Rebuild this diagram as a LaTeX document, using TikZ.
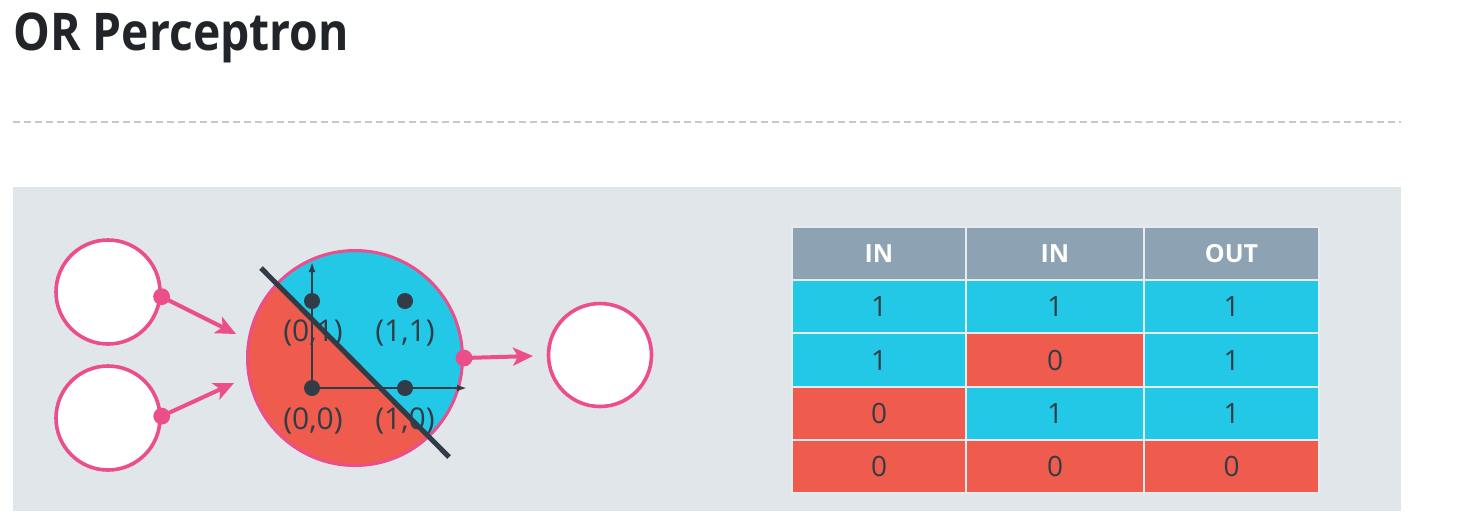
\documentclass[tikz,border=0pt]{standalone}
\usepackage{fontspec}
\setmainfont{Open Sans}
\newfontfamily\titlefont[FakeStretch=0.89]{Open Sans}
\usetikzlibrary{arrows.meta}
\definecolor{panel}{HTML}{E1E6EA}
\definecolor{pinkc}{HTML}{EC4D8B}
\definecolor{cyanc}{HTML}{22C8E5}
\definecolor{redc}{HTML}{EF5C4E}
\definecolor{headc}{HTML}{8DA3B4}
\definecolor{darkc}{HTML}{323C46}
\definecolor{titlec}{HTML}{212529}
\definecolor{dashc}{HTML}{C8C8C8}
\definecolor{gridc}{HTML}{E4ECF0}
\begin{document}
\begin{tikzpicture}[x=0.5pt,y=-0.5pt,
  incirc/.style={circle,draw=pinkc,fill=white,line width=1.8pt,minimum size=52pt,inner sep=0pt},
  pinkdot/.style={pinkc},
  arr/.style={pinkc,line width=2pt,-{Stealth[length=10pt,width=9pt,inset=2.5pt]}},
  axisln/.style={darkc,line width=1pt,-{Latex[length=5pt,width=3.5pt]}},
  pt/.style={circle,fill=darkc,minimum size=8pt,inner sep=0pt},
  lbl/.style={text=darkc,font=\fontsize{15}{18}\selectfont,inner sep=0pt},
  cell/.style={draw=gridc,line width=0.6pt,minimum height=26.5pt,inner sep=0pt,text=darkc,font=\fontsize{14}{17}\selectfont},
  hcell/.style={cell,fill=headc,text=white,font=\bfseries\fontsize{12.5}{15}\selectfont},
  cA/.style={minimum width=87pt},
  cB/.style={minimum width=89pt},
  cC/.style={minimum width=87.5pt}
]
\useasboundingbox (0,0) rectangle (1481,526);
% title
\node[anchor=base west,inner sep=0pt,text=titlec] (title) at (13,50) {\titlefont\bfseries\fontsize{26}{31}\selectfont OR Perceptron};
\draw[dashc,line width=1pt,dash pattern=on 3.5pt off 2pt] (13,122) -- (1401,122);
% panel
\fill[panel] (13,187) rectangle (1401,511);
% inputs
\node[incirc] (in1) at (108,292) {};
\node[incirc] (in2) at (108,418) {};
\coordinate (d1) at (in1.-5);
\coordinate (d2) at (in2.2);
\coordinate (a1) at (236,334);
\coordinate (a2) at (234,383);
\draw[arr] (d1) -- (a1);
\draw[arr] (d2) -- (a2);
\fill[pinkdot] (d1) circle (4.2pt);
\fill[pinkdot] (d2) circle (4.2pt);
% main perceptron circle
\begin{scope}
  \clip (355,358) circle (53.75pt);
  \fill[redc] (240,240) rectangle (470,475);
  \fill[cyanc] (148,155) -- (562,570) -- (700,570) -- (700,100) -- (148,100) -- cycle;
\end{scope}
\node[circle,draw=pinkc,line width=1.5pt,minimum size=107.5pt,inner sep=0pt] (main) at (355,358) {};
\coordinate (o) at (312,388);
\coordinate (yend) at (312,262);
\coordinate (xend) at (467,388);
\draw[axisln] (o) -- (yend);
\draw[axisln] (o) -- (xend);
\node[pt] (p00) at (312,388) {};
\node[pt] (p10) at (405,388) {};
\node[pt] (p01) at (312,301) {};
\node[pt] (p11) at (405,301) {};
\node[lbl] (l01) at (313,333) {(0,1)};
\node[lbl] (l11) at (405,333) {(1,1)};
\node[lbl] (l00) at (313,421) {(0,0)};
\node[lbl] (l10) at (405,421) {(1,0)};
\coordinate (s1) at (261,268);
\coordinate (s2) at (449,457);
\draw[darkc,line width=2.5pt] (s1) -- (s2);
% output
\node[incirc,minimum size=51.5pt] (out) at (600,355) {};
\coordinate (d3) at (main.0);
\coordinate (a3) at (533,356);
\draw[arr] (d3) -- (a3);
\fill[pinkdot] (d3) circle (4.2pt);
% table
\node[hcell,cA] (h1) at (879,253.5) {IN};
\node[hcell,cB] (h2) at (1055,253.5) {IN};
\node[hcell,cC] (h3) at (1231.5,253.5) {OUT};
\node[cell,cA,fill=cyanc] (r11) at (879,306.5) {1};
\node[cell,cB,fill=cyanc] (r12) at (1055,306.5) {1};
\node[cell,cC,fill=cyanc] (r13) at (1231.5,306.5) {1};
\node[cell,cA,fill=cyanc] (r21) at (879,360) {1};
\node[cell,cB,fill=redc] (r22) at (1055,360) {0};
\node[cell,cC,fill=cyanc] (r23) at (1231.5,360) {1};
\node[cell,cA,fill=redc] (r31) at (879,413.5) {0};
\node[cell,cB,fill=cyanc] (r32) at (1055,413.5) {1};
\node[cell,cC,fill=cyanc] (r33) at (1231.5,413.5) {1};
\node[cell,cA,fill=redc] (r41) at (879,466.5) {0};
\node[cell,cB,fill=redc] (r42) at (1055,466.5) {0};
\node[cell,cC,fill=redc] (r43) at (1231.5,466.5) {0};
\end{tikzpicture}
\end{document}
